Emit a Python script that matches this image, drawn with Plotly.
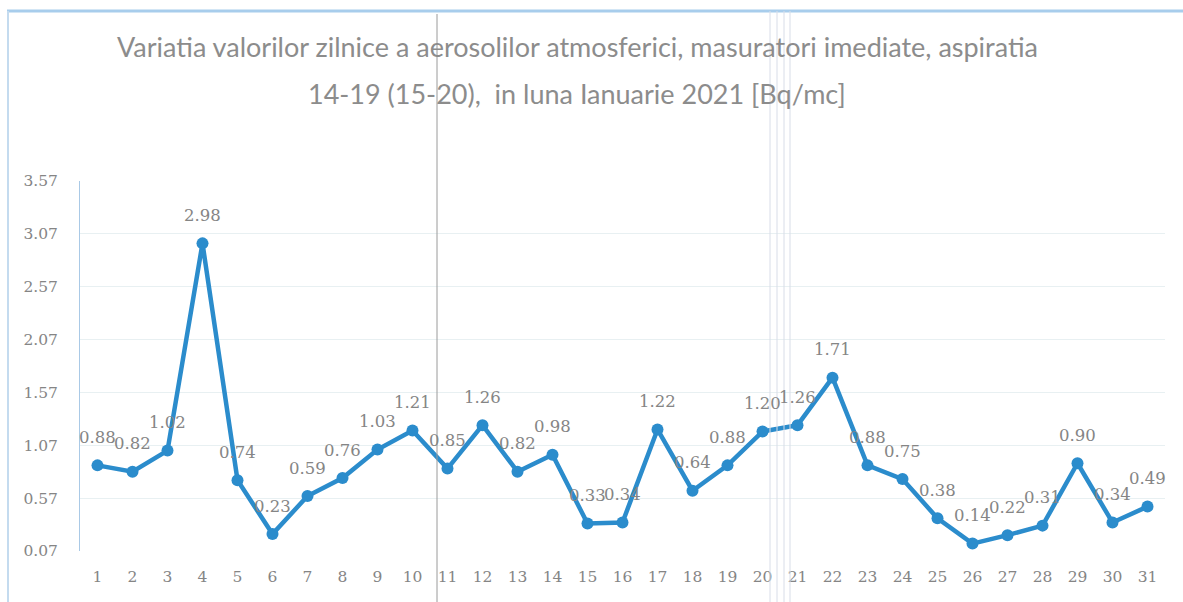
import plotly.graph_objects as go

days = [str(i) for i in range(1, 32)]
values = [0.88, 0.82, 1.02, 2.98, 0.74, 0.23, 0.59, 0.76, 1.03, 1.21,
          0.85, 1.26, 0.82, 0.98, 0.33, 0.34, 1.22, 0.64, 0.88, 1.20,
          1.26, 1.71, 0.88, 0.75, 0.38, 0.14, 0.22, 0.31, 0.90, 0.34, 0.49]
labels = [f"{v:.2f}" for v in values]
yticks = [0.07, 0.57, 1.07, 1.57, 2.07, 2.57, 3.07, 3.57]
title_lines = ["Variatia valorilor zilnice a aerosolilor atmosferici, masuratori imediate, aspiratia",
               "14-19 (15-20),  in luna Ianuarie 2021 [Bq/mc]"]

SERIF = "DejaVu Serif, Liberation Serif, serif"
GRAY = "#858585"
BLUE = "#2b8ccc"

L, R, T, B = 80, 18, 181, 51
PW, PH = 1183 - L - R, 602 - T - B

def px(x):
    return (x - L) / PW

def py(y):
    return 1 - (y - T) / PH

fig = go.Figure()
fig.add_trace(go.Scatter(
    x=days, y=values, mode="lines+markers",
    line=dict(color=BLUE, width=4.5),
    marker=dict(color=BLUE, size=12),
    cliponaxis=False, showlegend=False,
))

annotations = []
for i, (v, t) in enumerate(zip(values, labels)):
    annotations.append(dict(x=i, y=v, xref="x", yref="y", text=t, showarrow=False,
                            yshift=28, yanchor="middle",
                            font=dict(family=SERIF, size=16.5, color=GRAY)))
title_y = [47, 93]
for line, yy in zip(title_lines, title_y):
    annotations.append(dict(x=px(577), y=py(yy), xref="paper", yref="paper", text=line,
                            showarrow=False, xanchor="center", yanchor="middle",
                            font=dict(family="Lato, Open Sans, sans-serif", size=27, color="#8c8c8c")))

def vline(x, color, width, y0=11):
    return dict(type="line", xref="paper", yref="paper", x0=px(x), x1=px(x),
                y0=py(y0), y1=py(602), line=dict(color=color, width=width))

fig.update_layout(
    width=1183, height=602,
    margin=dict(l=L, r=R, t=T, b=B),
    paper_bgcolor="white", plot_bgcolor="white",
    xaxis=dict(type="category", range=[-0.5, 30.5], showgrid=False, showline=False,
               ticks="", ticklabelstandoff=14,
               tickfont=dict(family=SERIF, size=15.5, color=GRAY)),
    yaxis=dict(range=[0.07, 3.57], tickvals=yticks, ticktext=[f"{t:.2f}" for t in yticks],
               showgrid=True, gridcolor="#e8f0f2", gridwidth=1, zeroline=False,
               showline=True, linecolor="#a9c9e6", linewidth=1, ticks="",
               ticklabelstandoff=18,
               tickfont=dict(family=SERIF, size=15.5, color=GRAY)),
    annotations=annotations,
    shapes=[
        dict(type="line", xref="paper", yref="paper", x0=px(7), x1=px(1183),
             y0=py(11), y1=py(11), line=dict(color="#a8cdec", width=3)),
        vline(8, "#c4dbef", 2),
        vline(437, "#9a9a9a", 1, y0=14),
        vline(770, "#d8dde8", 1),
        vline(777, "#d8dde8", 1),
        vline(784, "#d8dde8", 1),
        vline(790, "#d8dde8", 1),
    ],
)

fig.write_html("out.html", config={"displayModeBar": False},
               post_script="document.body.style.margin='0';")
